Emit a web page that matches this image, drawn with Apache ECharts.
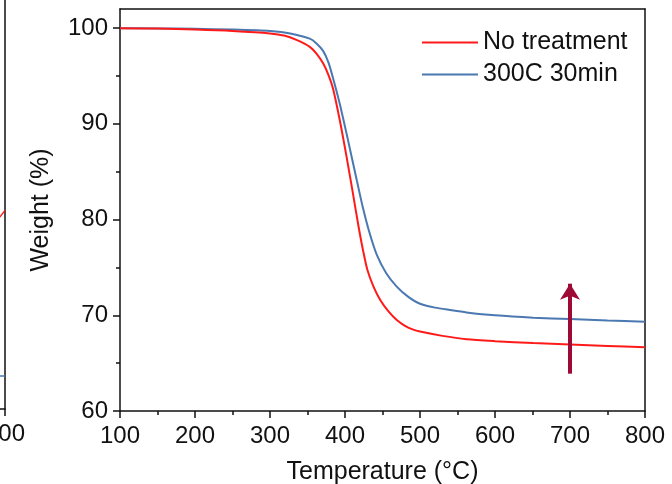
<!DOCTYPE html>
<html><head><meta charset="utf-8">
<script src="https://cdn.jsdelivr.net/npm/echarts@6/dist/echarts.min.js"></script>
<style>html,body{margin:0;padding:0;background:#fff}#c{width:672px;height:484px}</style>
</head><body><div id="c"></div>
<script>
// ---- data ----
const seriesNames = ['No treatment', '300C 30min'];
const yTicks = [60, 70, 80, 90, 100];
const yMinorTicks = [65, 75, 85, 95];
const noTreatment = [[100,100],[150,99.95],[200,99.85],[250,99.7],[300,99.45],[320,99.2],[336,98.75],[353,98.05],[362,97.35],[371,96.3],[378,95.1],[384,93.7],[393,90.4],[402,86.6],[410,83.0],[418,79.3],[424,76.8],[430,74.7],[438,73.0],[447,71.6],[458,70.4],[469,69.5],[480,68.9],[491,68.5],[500,68.3],[530,67.85],[562,67.5],[600,67.3],[651,67.1],[700,66.95],[750,66.8],[800,66.65]];
const treated30 = [[100,100],[150,99.97],[200,99.93],[250,99.85],[300,99.7],[327,99.45],[353,98.9],[362,98.4],[371,97.6],[378,96.4],[384,94.8],[393,92.1],[404,88.3],[416,84.0],[424,81.2],[432,78.8],[442,76.4],[455,74.4],[469,73.0],[484,71.95],[500,71.2],[520,70.8],[540,70.55],[562,70.3],[600,70.0],[651,69.75],[700,69.6],[750,69.46],[800,69.33]];
const arrowX = 700, arrowFrom = 63.9, arrowTo = 73.3;
// partial neighbouring panel visible at the left edge
const leftRed = [[788,79.7],[800,80.4]];
const leftBlue = [[770,63.4],[800,63.4]];

const FONT = '"Liberation Sans", Arial, sans-serif';
const INK = '#111';
const RED = '#ff1a1a', BLUE = '#4a78b0', ARROW = '#9e0a35';
const axLine = {show: true, lineStyle: {color: INK, width: 1.5}};

const chart = echarts.init(document.getElementById('c'), null, {renderer: 'canvas'});
chart.setOption({
  animation: false,
  backgroundColor: '#fff',
  textStyle: {fontFamily: FONT, color: INK},
  grid: [
    {left: 120, right: 27, top: 9, bottom: 73, outerBoundsMode: 'none'},
    {left: -300, width: 305, top: 0, bottom: 75, outerBoundsMode: 'none', containLabel: false}
  ],
  legend: {
    data: [{name: seriesNames[0], icon: 'rect'}, {name: seriesNames[1], icon: 'rect'}],
    orient: 'vertical', left: 417, top: 25,
    itemWidth: 56, itemHeight: 2, itemGap: 7,
    textStyle: {fontSize: 25, color: INK, fontFamily: FONT},
    selectedMode: false
  },
  xAxis: [
    {gridIndex: 0, type: 'value', min: 100, max: 800, interval: 100, position: 'bottom',
     axisLine: axLine, splitLine: {show: false},
     axisTick: {show: true, length: 7, lineStyle: {color: INK, width: 1.5}},
     minorTick: {show: true, splitNumber: 2, length: 4, lineStyle: {color: INK, width: 1.5}},
     axisLabel: {fontSize: 24, color: INK, margin: 13, fontFamily: FONT},
     name: 'Temperature (\u00B0C)', nameLocation: 'middle', nameGap: 49,
     nameTextStyle: {fontSize: 25, color: INK, fontFamily: FONT}},
    {gridIndex: 0, type: 'value', min: 100, max: 800, position: 'top',
     axisLine: axLine, axisTick: {show: false}, axisLabel: {show: false}, splitLine: {show: false}},
    {gridIndex: 1, type: 'value', min: 100, max: 800, interval: 100, position: 'bottom',
     axisLine: axLine, splitLine: {show: false},
     axisTick: {show: true, length: 7, lineStyle: {color: INK, width: 1.5}},
     axisLabel: {fontSize: 24, color: INK, margin: 13, fontFamily: FONT, hideOverlap: false}}
  ],
  yAxis: [
    {gridIndex: 0, type: 'value', min: 60, max: 102, interval: 10, position: 'left',
     axisLine: axLine, splitLine: {show: false},
     axisTick: {show: true, length: 7, customValues: yTicks, lineStyle: {color: INK, width: 1.5}},
     axisLabel: {fontSize: 24, color: INK, margin: 12, customValues: yTicks, fontFamily: FONT},
     name: 'Weight (%)', nameLocation: 'middle', nameGap: 66,
     nameTextStyle: {fontSize: 25, color: INK, fontFamily: FONT}},
    {gridIndex: 0, type: 'value', min: 60, max: 102, position: 'left',
     axisLine: {show: false}, splitLine: {show: false}, axisLabel: {show: false},
     axisTick: {show: true, length: 4, customValues: yMinorTicks, lineStyle: {color: INK, width: 1.5}}},
    {gridIndex: 0, type: 'value', min: 60, max: 102, position: 'right',
     axisLine: axLine, axisTick: {show: false}, axisLabel: {show: false}, splitLine: {show: false}},
    {gridIndex: 1, type: 'value', min: 60, max: 102, position: 'right',
     axisLine: axLine, axisTick: {show: false}, axisLabel: {show: false}, splitLine: {show: false}}
  ],
  series: [
    {name: seriesNames[0], type: 'line', xAxisIndex: 0, yAxisIndex: 0, data: noTreatment,
     symbol: 'none', smooth: 0.25, lineStyle: {color: RED, width: 2}, itemStyle: {color: RED}, z: 3,
     markLine: {silent: true, symbol: ['none', 'arrow'], symbolSize: [15, 16],
       label: {show: false}, emphasis: {disabled: true},
       lineStyle: {color: ARROW, width: 4, type: 'solid'},
       data: [[{coord: [arrowX, arrowFrom]}, {coord: [arrowX, arrowTo]}]]}},
    {name: seriesNames[1], type: 'line', xAxisIndex: 0, yAxisIndex: 0, data: treated30,
     symbol: 'none', smooth: 0.25, lineStyle: {color: BLUE, width: 2}, itemStyle: {color: BLUE}, z: 2},
    {name: 'left-red', type: 'line', xAxisIndex: 2, yAxisIndex: 3, data: leftRed,
     symbol: 'none', lineStyle: {color: RED, width: 1.5}, silent: true},
    {name: 'left-blue', type: 'line', xAxisIndex: 2, yAxisIndex: 3, data: leftBlue,
     symbol: 'none', lineStyle: {color: BLUE, width: 1.5}, silent: true}
  ]
});
</script>
</body></html>
